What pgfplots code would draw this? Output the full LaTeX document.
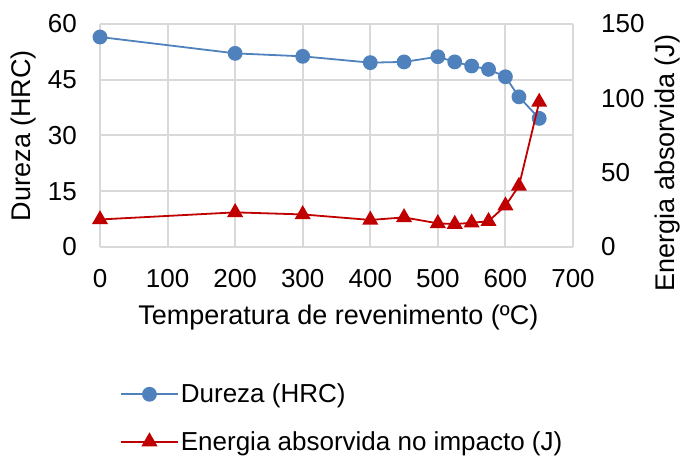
\documentclass[border=0pt]{standalone}
\usepackage{fontspec}
\setmainfont{Liberation Sans}
\usepackage{pgfplots}
\pgfplotsset{compat=1.18}
\definecolor{durblue}{HTML}{4F81BD}
\definecolor{enred}{HTML}{C00000}
\definecolor{gridgray}{HTML}{D9D9D9}

\pgfplotsset{
  base/.style={
    scale only axis, width=473pt, height=223pt,
    at={(0pt,0pt)}, anchor=south west,
    xmin=0, xmax=700, clip=false,
    major tick length=0pt,
    /pgf/number format/assume math mode=true,
    tick label style={font=\fontsize{26}{31}\selectfont},
  },
}

\begin{document}
\begin{tikzpicture}
\path[use as bounding box] (-100pt,-210pt) rectangle (589pt,247pt);

% left axis: hardness
\begin{axis}[base,
  ymin=0, ymax=60, ytick={0,15,30,45,60},
  xtick={0,100,...,700},
  grid=major, grid style={gridgray, line width=2pt},
  axis line style={draw=none},
  yticklabel style={inner sep=0pt, xshift=-23pt},
  xticklabel style={inner sep=0pt, yshift=-22pt},
  ylabel={Dureza (HRC)},
  xlabel={Temperatura de revenimento (ºC)},
  every axis y label/.style={at={(axis description cs:-0.161,0.5)}, rotate=90, anchor=center, font=\fontsize{27}{32}\selectfont},
  every axis x label/.style={at={(axis description cs:0.504,-0.318)}, anchor=center, font=\fontsize{27}{32}\selectfont},
]
\addplot[durblue, line width=1.8pt, mark=*, mark size=6.5pt] coordinates {
  (0,56.5) (200,52.1) (300,51.3) (400,49.6) (450,49.8) (500,51.2)
  (525,49.8) (550,48.7) (575,47.8) (600,45.8) (620,40.4) (650,34.6)
};
\end{axis}

% right axis: absorbed energy
\begin{axis}[base,
  ymin=0, ymax=150, ytick={0,50,100,150},
  axis x line=none, axis y line*=right,
  axis line style={draw=none},
  yticklabel style={inner sep=0pt, xshift=28pt, anchor=west},
  ylabel={Energia absorvida (J)},
  every axis y label/.style={at={(axis description cs:1.199,0.377)}, rotate=90, anchor=center, font=\fontsize{27}{32}\selectfont},
  legend style={draw=none, fill=none, at={(axis description cs:0.042,-0.605)}, anchor=north west,
    font=\fontsize{26}{31}\selectfont, row sep=23pt, inner sep=0pt,
    nodes={inner sep=2pt}},
  legend cell align=left,
  legend image code/.code={\draw[line width=1.8pt, mark repeat=2, mark phase=2, #1] plot coordinates {(0pt,0pt) (28.5pt,0pt) (57pt,0pt)};},
]
\addlegendimage{durblue, line width=1.8pt, mark=*, mark size=6.5pt}
\addlegendentry{Dureza (HRC)}
\addplot[enred, line width=1.8pt, mark=triangle*, mark size=7.5pt] coordinates {
  (0,18.5) (200,23.3) (300,21.9) (400,18.2) (450,19.9) (500,15.9)
  (525,15.4) (550,16.3) (575,17.3) (600,27.8) (620,41.0) (650,97.5)
};
\addlegendentry{Energia absorvida no impacto (J)}
\end{axis}
\end{tikzpicture}
\end{document}
